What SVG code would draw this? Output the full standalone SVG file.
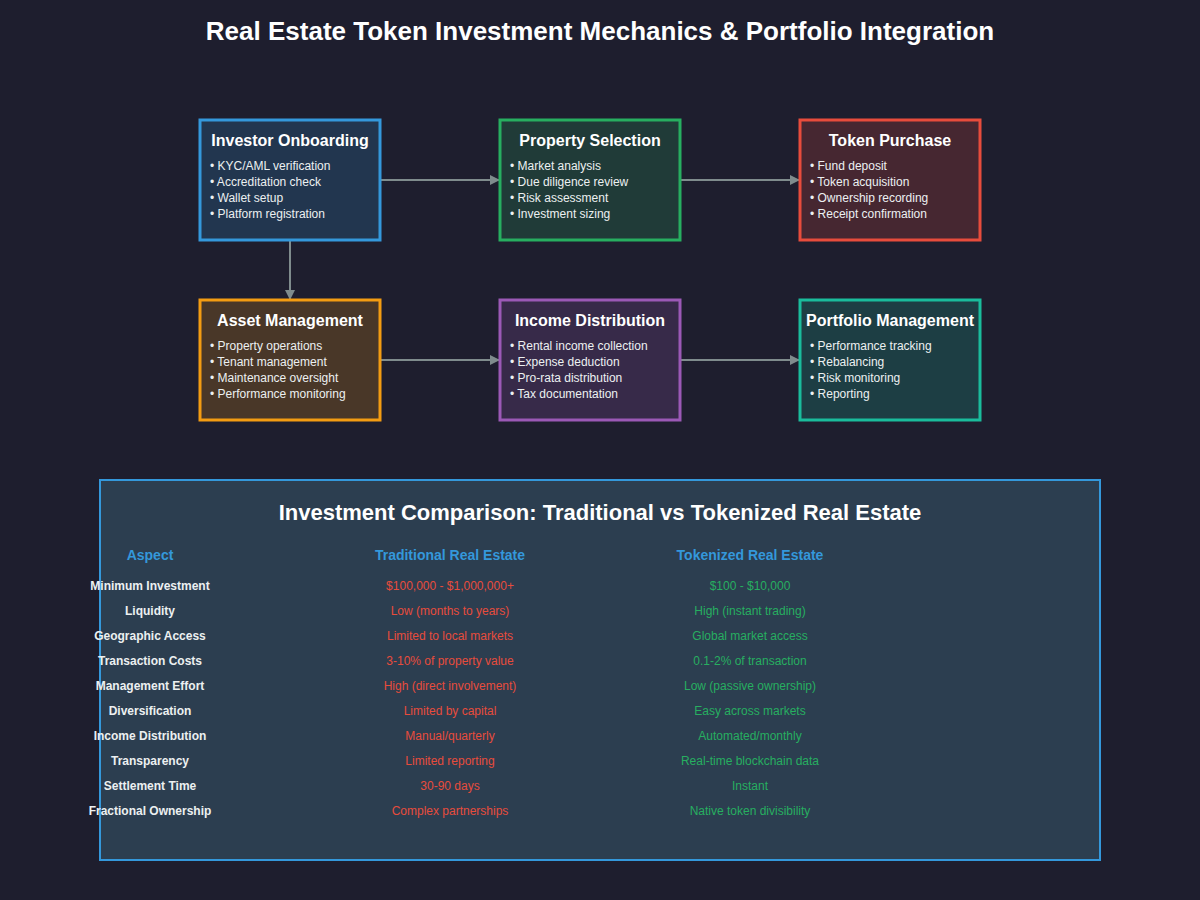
<svg xmlns="http://www.w3.org/2000/svg" width="1200" height="900" viewBox="0 0 1200 900">
<defs>
<marker id="arr" markerWidth="10" markerHeight="10" refX="10" refY="5" orient="auto" markerUnits="userSpaceOnUse">
<path d="M0,0 L10,5 L0,10 Z" fill="#7f8c8d"/>
</marker>
<style>
.title{font-family:"Liberation Sans",Arial,sans-serif;font-size:26px;font-weight:bold;fill:#ffffff;text-anchor:middle}
.nt{font-family:"Liberation Sans",Arial,sans-serif;font-size:16px;font-weight:bold;fill:#ffffff;text-anchor:middle}
.bl{font-family:"Liberation Sans",Arial,sans-serif;font-size:12px;fill:#ecf0f1}
.box{stroke-width:3}
.conn{stroke:#7f8c8d;stroke-width:2;fill:none}
.pt{font-family:"Liberation Sans",Arial,sans-serif;font-size:22px;font-weight:bold;fill:#ffffff;text-anchor:middle}
.hd{font-family:"Liberation Sans",Arial,sans-serif;font-size:14px;font-weight:bold;fill:#3498db;text-anchor:middle}
.as{font-family:"Liberation Sans",Arial,sans-serif;font-size:12px;font-weight:bold;fill:#ecf0f1;text-anchor:middle}
.tr{font-family:"Liberation Sans",Arial,sans-serif;font-size:12px;fill:#e74c3c;text-anchor:middle}
.tk{font-family:"Liberation Sans",Arial,sans-serif;font-size:12px;fill:#27ae60;text-anchor:middle}
</style>
</defs>
<rect width="1200" height="900" fill="#1e1e2e"/>
<text class="title" x="600" y="40">Real Estate Token Investment Mechanics &amp; Portfolio Integration</text>

<g id="connectors">
<line class="conn" x1="380" y1="180" x2="500" y2="180" marker-end="url(#arr)"/>
<line class="conn" x1="680" y1="180" x2="800" y2="180" marker-end="url(#arr)"/>
<line class="conn" x1="290" y1="240" x2="290" y2="300" marker-end="url(#arr)"/>
<line class="conn" x1="380" y1="360" x2="500" y2="360" marker-end="url(#arr)"/>
<line class="conn" x1="680" y1="360" x2="800" y2="360" marker-end="url(#arr)"/>
</g>

<g id="investor-onboarding">
<rect class="box" x="200" y="120" width="180" height="120" fill="#22364f" stroke="#3498db"/>
<text class="nt" x="290" y="146">Investor Onboarding</text>
<text class="bl" x="210" y="170">• KYC/AML verification</text>
<text class="bl" x="210" y="186">• Accreditation check</text>
<text class="bl" x="210" y="202">• Wallet setup</text>
<text class="bl" x="210" y="218">• Platform registration</text>
</g>
<g id="property-selection">
<rect class="box" x="500" y="120" width="180" height="120" fill="#203b38" stroke="#27ae60"/>
<text class="nt" x="590" y="146">Property Selection</text>
<text class="bl" x="510" y="170">• Market analysis</text>
<text class="bl" x="510" y="186">• Due diligence review</text>
<text class="bl" x="510" y="202">• Risk assessment</text>
<text class="bl" x="510" y="218">• Investment sizing</text>
</g>
<g id="token-purchase">
<rect class="box" x="800" y="120" width="180" height="120" fill="#462731" stroke="#e74c3c"/>
<text class="nt" x="890" y="146">Token Purchase</text>
<text class="bl" x="810" y="170">• Fund deposit</text>
<text class="bl" x="810" y="186">• Token acquisition</text>
<text class="bl" x="810" y="202">• Ownership recording</text>
<text class="bl" x="810" y="218">• Receipt confirmation</text>
</g>
<g id="asset-management">
<rect class="box" x="200" y="300" width="180" height="120" fill="#493728" stroke="#f39c12"/>
<text class="nt" x="290" y="326">Asset Management</text>
<text class="bl" x="210" y="350">• Property operations</text>
<text class="bl" x="210" y="366">• Tenant management</text>
<text class="bl" x="210" y="382">• Maintenance oversight</text>
<text class="bl" x="210" y="398">• Performance monitoring</text>
</g>
<g id="income-distribution">
<rect class="box" x="500" y="300" width="180" height="120" fill="#372a49" stroke="#9b59b6"/>
<text class="nt" x="590" y="326">Income Distribution</text>
<text class="bl" x="510" y="350">• Rental income collection</text>
<text class="bl" x="510" y="366">• Expense deduction</text>
<text class="bl" x="510" y="382">• Pro-rata distribution</text>
<text class="bl" x="510" y="398">• Tax documentation</text>
</g>
<g id="portfolio-management">
<rect class="box" x="800" y="300" width="180" height="120" fill="#1d3e44" stroke="#1abc9c"/>
<text class="nt" x="890" y="326">Portfolio Management</text>
<text class="bl" x="810" y="350">• Performance tracking</text>
<text class="bl" x="810" y="366">• Rebalancing</text>
<text class="bl" x="810" y="382">• Risk monitoring</text>
<text class="bl" x="810" y="398">• Reporting</text>
</g>

<g id="comparison">
<rect x="100" y="480" width="1000" height="380" fill="#2c3e50" stroke="#3498db" stroke-width="2"/>
<text class="pt" x="600" y="520">Investment Comparison: Traditional vs Tokenized Real Estate</text>
<text class="hd" x="150" y="560">Aspect</text>
<text class="hd" x="450" y="560">Traditional Real Estate</text>
<text class="hd" x="750" y="560">Tokenized Real Estate</text>

<text class="as" x="150" y="590">Minimum Investment</text>
<text class="tr" x="450" y="590">$100,000 - $1,000,000+</text>
<text class="tk" x="750" y="590">$100 - $10,000</text>

<text class="as" x="150" y="615">Liquidity</text>
<text class="tr" x="450" y="615">Low (months to years)</text>
<text class="tk" x="750" y="615">High (instant trading)</text>

<text class="as" x="150" y="640">Geographic Access</text>
<text class="tr" x="450" y="640">Limited to local markets</text>
<text class="tk" x="750" y="640">Global market access</text>

<text class="as" x="150" y="665">Transaction Costs</text>
<text class="tr" x="450" y="665">3-10% of property value</text>
<text class="tk" x="750" y="665">0.1-2% of transaction</text>

<text class="as" x="150" y="690">Management Effort</text>
<text class="tr" x="450" y="690">High (direct involvement)</text>
<text class="tk" x="750" y="690">Low (passive ownership)</text>

<text class="as" x="150" y="715">Diversification</text>
<text class="tr" x="450" y="715">Limited by capital</text>
<text class="tk" x="750" y="715">Easy across markets</text>

<text class="as" x="150" y="740">Income Distribution</text>
<text class="tr" x="450" y="740">Manual/quarterly</text>
<text class="tk" x="750" y="740">Automated/monthly</text>

<text class="as" x="150" y="765">Transparency</text>
<text class="tr" x="450" y="765">Limited reporting</text>
<text class="tk" x="750" y="765">Real-time blockchain data</text>

<text class="as" x="150" y="790">Settlement Time</text>
<text class="tr" x="450" y="790">30-90 days</text>
<text class="tk" x="750" y="790">Instant</text>

<text class="as" x="150" y="815">Fractional Ownership</text>
<text class="tr" x="450" y="815">Complex partnerships</text>
<text class="tk" x="750" y="815">Native token divisibility</text>
</g>
</svg>
